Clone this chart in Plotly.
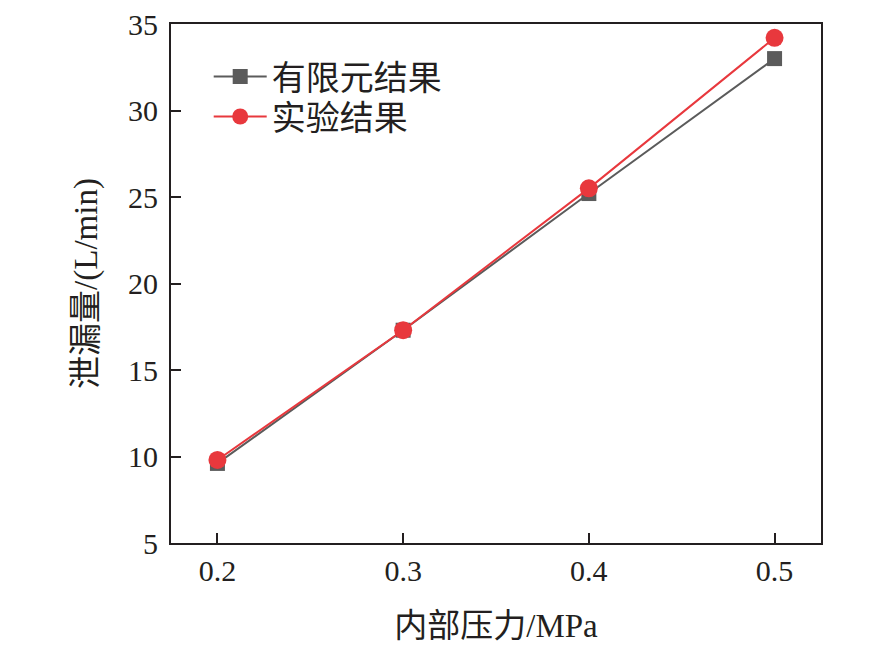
import plotly.graph_objects as go

# 内部压力 / 泄漏量 数据
pressure = [0.2, 0.3, 0.4, 0.5]
fem_result = [9.6, 17.3, 25.2, 33.0]
exp_result = [9.8, 17.3, 25.5, 34.2]
x_ticks = [0.2, 0.3, 0.4, 0.5]
y_ticks = [5, 10, 15, 20, 25, 30, 35]

font_fam = "Liberation Serif, Noto Sans CJK SC, serif"

fig = go.Figure()
fig.add_trace(go.Scatter(x=pressure, y=fem_result, mode="lines+markers", name="有限元结果",
                         line=dict(color="#5b5b5b", width=2),
                         marker=dict(symbol="square", size=15, color="#5b5b5b"),
                         legend="legend"))
fig.add_trace(go.Scatter(x=pressure, y=exp_result, mode="lines+markers", name="实验结果",
                         line=dict(color="#e8383d", width=2),
                         marker=dict(symbol="circle", size=18, color="#e8383d"),
                         legend="legend2"))

axis_common = dict(showline=True, linecolor="#231f20", linewidth=2, mirror=True,
                   ticks="inside", ticklen=10, tickwidth=2, tickcolor="#231f20",
                   showgrid=False, zeroline=False, ticklabeloverflow="allow",
                   automargin=False,
                   tickfont=dict(family=font_fam, size=30, color="#231f20"))

leg = dict(xanchor="left", yanchor="middle", bgcolor="rgba(0,0,0,0)",
           font=dict(size=34), itemwidth=53)

fig.update_layout(
    width=886, height=650,
    paper_bgcolor="white", plot_bgcolor="white",
    margin=dict(l=163, r=73, t=16, b=115),
    font=dict(family=font_fam, color="#231f20"),
    xaxis=dict(range=[0.175, 0.525], tickvals=x_ticks, ticktext=["0.2", "0.3", "0.4", "0.5"],
               title=dict(text="内部压力/MPa", font=dict(size=33), standoff=28), **axis_common),
    yaxis=dict(range=[5, 35], tickvals=y_ticks, ticklabelstandoff=5,
               title=dict(text="泄漏量/(L/min)", font=dict(size=33), standoff=20), **axis_common),
    legend=dict(x=0.058, y=0.898, **leg),
    legend2=dict(x=0.058, y=0.821, **leg),
    showlegend=True,
)

fig.write_html("out.html")
